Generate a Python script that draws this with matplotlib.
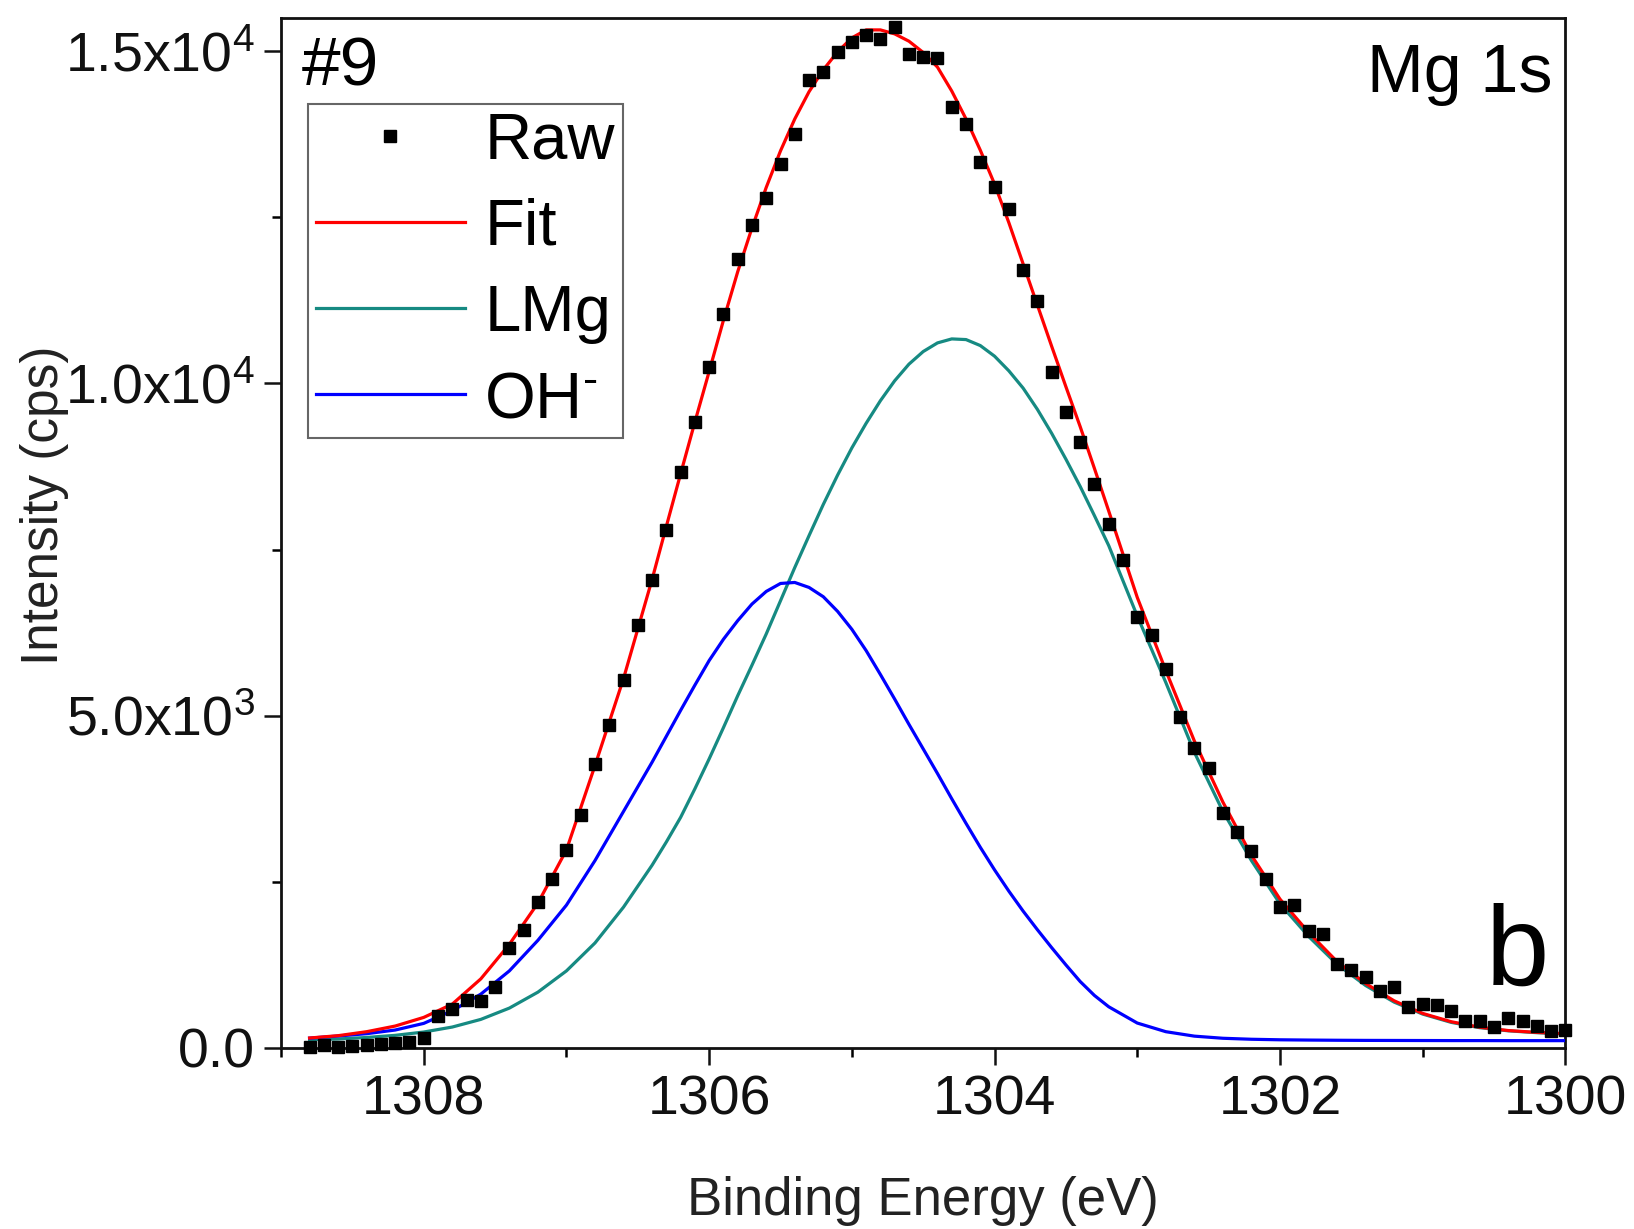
import matplotlib
matplotlib.use("Agg")
import matplotlib.pyplot as plt
from matplotlib.ticker import FixedLocator

plt.rcParams['font.family'] = ['Liberation Sans', 'DejaVu Sans']
plt.rcParams['mathtext.fontset'] = 'custom'
plt.rcParams['mathtext.rm'] = 'Liberation Sans'
plt.rcParams['mathtext.it'] = 'Liberation Sans:italic'
plt.rcParams['mathtext.bf'] = 'Liberation Sans:bold'

# ---------------- data ----------------
raw_energy = [1308.8, 1308.7, 1308.6, 1308.5, 1308.4, 1308.3, 1308.2, 1308.1, 1308.0,
              1307.9, 1307.8, 1307.7, 1307.6, 1307.5, 1307.4, 1307.3, 1307.2, 1307.1, 1307.0,
              1306.9, 1306.8, 1306.7, 1306.6, 1306.5, 1306.4, 1306.3, 1306.2, 1306.1, 1306.0,
              1305.9, 1305.8, 1305.7, 1305.6, 1305.5, 1305.4, 1305.3, 1305.2, 1305.1, 1305.0,
              1304.9, 1304.8, 1304.7, 1304.6, 1304.5, 1304.4, 1304.3, 1304.2, 1304.1, 1304.0,
              1303.9, 1303.8, 1303.7, 1303.6, 1303.5, 1303.4, 1303.3, 1303.2, 1303.1, 1303.0,
              1302.9, 1302.8, 1302.7, 1302.6, 1302.5, 1302.4, 1302.3, 1302.2, 1302.1, 1302.0,
              1301.9, 1301.8, 1301.7, 1301.6, 1301.5, 1301.4, 1301.3, 1301.2, 1301.1, 1301.0,
              1300.9, 1300.8, 1300.7, 1300.6, 1300.5, 1300.4, 1300.3, 1300.2, 1300.1, 1300.0]
raw_counts = [20, 40, 20, 35, 50, 55, 70, 90, 150,
              480, 580, 720, 700, 920, 1500, 1775, 2200, 2540, 2980,
              3500, 4280, 4860, 5535, 6360, 7040, 7790, 8670, 9420, 10250,
              11050, 11880, 12380, 12790, 13300, 13760, 14560, 14680, 14990, 15140,
              15240, 15190, 15370, 14960, 14910, 14890, 14160, 13910, 13330, 12950,
              12620, 11700, 11240, 10170, 9570, 9120, 8490, 7890, 7340, 6490,
              6210, 5710, 4980, 4510, 4210, 3530, 3250, 2970, 2550, 2120,
              2150, 1760, 1710, 1270, 1170, 1070, 850, 910, 620, 660,
              650, 550, 400, 400, 320, 450, 400, 330, 250, 270]

curve_energy = [1308.8, 1308.6, 1308.4, 1308.2, 1308.0, 1307.8, 1307.6, 1307.4, 1307.2, 1307.0,
                1306.8, 1306.6,
                1306.4, 1306.3, 1306.2, 1306.1, 1306.0, 1305.9, 1305.8, 1305.7, 1305.6, 1305.5,
                1305.4, 1305.3, 1305.2, 1305.1, 1305.0, 1304.9, 1304.8, 1304.7, 1304.6, 1304.5,
                1304.4, 1304.3, 1304.2, 1304.1, 1304.0, 1303.9, 1303.8, 1303.7, 1303.6, 1303.5,
                1303.4, 1303.3, 1303.2,
                1303.0, 1302.8, 1302.6, 1302.4, 1302.2, 1302.0, 1301.8, 1301.6, 1301.4, 1301.2,
                1301.0, 1300.8, 1300.6, 1300.4, 1300.2, 1300.0]
fit_counts = [150, 185, 245, 330, 460, 660, 1040, 1560, 2180, 2980,
              4250, 5560,
              7050, 7850, 8640, 9420, 10180, 10950, 11680, 12340, 12950, 13500,
              13980, 14390, 14720, 14990, 15200, 15320, 15320, 15260, 15150, 14980,
              14760, 14400, 13980, 13510, 13000, 12420, 11800, 11180, 10560, 9950,
              9350, 8720, 8080,
              6780, 5680, 4620, 3700, 2900, 2240, 1740, 1300, 970, 710,
              520, 395, 312, 262, 234, 215]
lmg_counts = [125, 135, 158, 190, 240, 315, 430, 600, 840, 1160,
              1580, 2120,
              2750, 3100, 3470, 3900, 4350, 4820, 5300, 5760, 6230, 6730,
              7230, 7710, 8180, 8620, 9030, 9400, 9740, 10040, 10290, 10480,
              10610, 10670, 10660, 10570, 10410, 10190, 9930, 9610, 9250, 8860,
              8450, 8010, 7560,
              6500, 5500, 4450, 3560, 2820, 2170, 1680, 1260, 940, 690,
              510, 385, 305, 258, 230, 212]
oh_counts = [148, 180, 215, 270, 370, 560, 810, 1160, 1620, 2150,
             2820, 3560,
             4300, 4690, 5080, 5460, 5830, 6150, 6430, 6680, 6870, 6990,
             7005, 6930, 6790, 6570, 6300, 5980, 5620, 5250, 4870, 4500,
             4130, 3750, 3380, 3020, 2680, 2360, 2060, 1780, 1510, 1250,
             1000, 790, 620,
             375, 245, 178, 146, 131, 123, 119, 116, 114, 113,
             112, 111, 111, 110, 110, 110]

x_major = [1308, 1306, 1304, 1302, 1300]
x_minor = [1309, 1307, 1305, 1303, 1301]
y_major = [0, 5000, 10000, 15000]
y_minor = [2500, 7500, 12500]
y_labels = ['0.0', '5.0x10$^{3}$', '1.0x10$^{4}$', '1.5x10$^{4}$']

# ---------------- figure ----------------
fig = plt.figure(figsize=(16.34, 12.29), dpi=100)
ax = fig.add_axes([0.172, 0.1473, 0.786, 0.8381])

ax.plot(raw_energy, raw_counts, linestyle='none', marker='s', markersize=8,
        color='black', label='Raw', zorder=5, clip_on=False)
ax.plot(curve_energy, fit_counts, color='#ff0000', lw=2.3, label='Fit', zorder=4)
ax.plot(curve_energy, lmg_counts, color='#168a82', lw=2.3, label='LMg', zorder=3)
ax.plot(curve_energy, oh_counts, color='#0000ff', lw=2.3, label='OH$^{\\text{-}}$', zorder=3)

ax.set_xlim(1309, 1300)
ax.set_ylim(0, 15500)

ax.xaxis.set_major_locator(FixedLocator(x_major))
ax.xaxis.set_minor_locator(FixedLocator(x_minor))
ax.yaxis.set_major_locator(FixedLocator(y_major))
ax.yaxis.set_minor_locator(FixedLocator(y_minor))
ax.set_yticklabels(y_labels)
ax.set_xticklabels([str(v) for v in x_major])

ax.tick_params(axis='both', which='major', direction='out', length=12, width=1.8,
               labelsize=40, colors='#111111', pad=7)
ax.tick_params(axis='both', which='minor', direction='out', length=6.5, width=1.8)
ax.tick_params(top=False, right=False)
for s in ax.spines.values():
    s.set_linewidth(2.0)
    s.set_color('#111111')

ax.set_xlabel('Binding Energy (eV)', fontsize=38, color='#222222', labelpad=36)
ax.set_ylabel('Intensity (cps)', fontsize=37, color='#222222')
ax.yaxis.set_label_coords(-0.165, 0.527)

ax.text(0.016, 0.934, '#9', transform=ax.transAxes, fontsize=50, ha='left', va='baseline')
ax.text(0.990, 0.928, 'Mg 1s', transform=ax.transAxes, fontsize=49, ha='right', va='baseline')
ax.text(0.987, 0.061, 'b', transform=ax.transAxes, fontsize=82, ha='right', va='baseline')

leg = ax.legend(loc='upper left', bbox_to_anchor=(0.021, 0.9165), borderaxespad=0,
                fontsize=47, numpoints=1, handlelength=2.28, handletextpad=0.3,
                labelspacing=0.40, borderpad=0.12, fancybox=False, framealpha=1,
                edgecolor='#666666')
leg.get_frame().set_linewidth(1.5)

fig.savefig('out.png', dpi=100)
